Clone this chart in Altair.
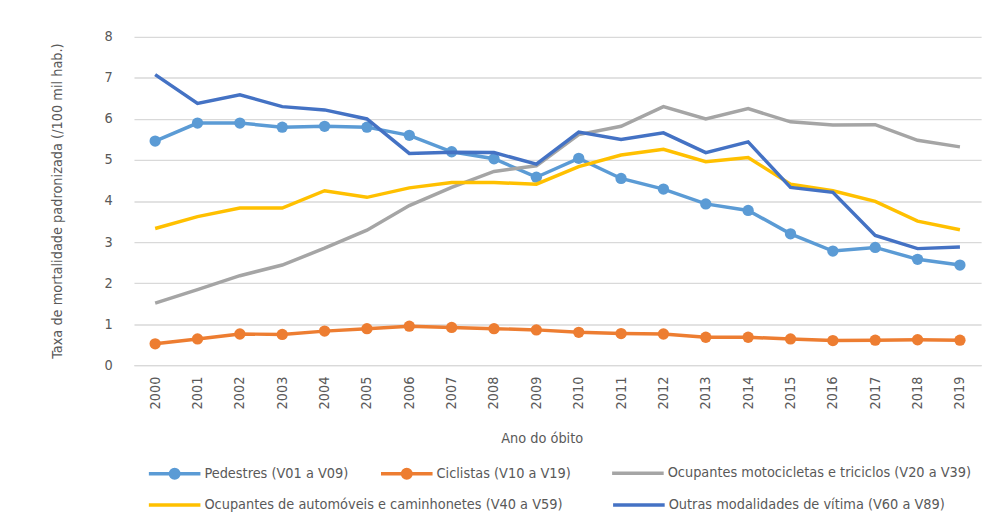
import altair as alt
import pandas as pd

years = [str(y) for y in range(2000, 2020)]

series_names = [
    "Pedestres (V01 a V09)",
    "Ciclistas (V10 a V19)",
    "Ocupantes motocicletas e triciclos (V20 a V39)",
    "Ocupantes de automóveis e caminhonetes (V40 a V59)",
    "Outras modalidades de vítima (V60 a V89)",
]
series_colors = ["#5B9BD5", "#ED7D31", "#A5A5A5", "#FFC000", "#4472C4"]

pedestres = [5.46, 5.90, 5.90, 5.80, 5.82, 5.80, 5.60, 5.20, 5.03, 4.58,
             5.04, 4.55, 4.29, 3.93, 3.77, 3.20, 2.78, 2.87, 2.58, 2.44]
ciclistas = [0.52, 0.64, 0.76, 0.75, 0.83, 0.89, 0.95, 0.92, 0.89, 0.86,
             0.80, 0.77, 0.76, 0.68, 0.68, 0.64, 0.60, 0.61, 0.62, 0.61]
motocicletas = [1.51, 1.84, 2.18, 2.44, 2.85, 3.29, 3.89, 4.33, 4.72, 4.86,
                5.62, 5.82, 6.30, 6.00, 6.25, 5.93, 5.85, 5.86, 5.48, 5.32]
automoveis = [3.33, 3.62, 3.83, 3.83, 4.25, 4.09, 4.32, 4.45, 4.45, 4.41,
              4.84, 5.12, 5.26, 4.96, 5.06, 4.41, 4.25, 3.99, 3.51, 3.30]
outras = [7.08, 6.38, 6.59, 6.30, 6.22, 6.00, 5.16, 5.19, 5.18, 4.90,
          5.68, 5.50, 5.66, 5.18, 5.44, 4.33, 4.21, 3.16, 2.84, 2.88]

all_values = [pedestres, ciclistas, motocicletas, automoveis, outras]
rows = []
for name, vals in zip(series_names, all_values):
    for yr, v in zip(years, vals):
        rows.append({"ano": yr, "serie": name, "taxa": v})
df = pd.DataFrame(rows)

FONT = "'DejaVu Sans Condensed', 'Liberation Sans Narrow', 'DejaVu Sans', sans-serif"
TXT = "#595959"
GRID = "#D9D9D9"
LW = 3.5
FS = 14.5

x_enc = alt.X("ano:O", scale=alt.Scale(type="point", padding=0.5),
              axis=alt.Axis(title="Ano do óbito", labelAngle=-90, labelPadding=11,
                            ticks=False, domainColor=GRID, domainWidth=1.3,
                            labelFont=FONT, labelFontSize=FS, labelColor=TXT,
                            titleFont=FONT, titleFontSize=FS, titleColor=TXT,
                            titleFontWeight="normal", titleX=411, titleY=74,
                            titleBaseline="middle", titleAlign="center"))
y_enc = alt.Y("taxa:Q", scale=alt.Scale(domain=[0, 8]),
              axis=alt.Axis(title="Taxa de mortalidade padronizada (/100 mil hab.)",
                            values=list(range(9)), ticks=False, domain=False,
                            labelPadding=22, gridColor=GRID, gridWidth=1.3,
                            labelFont=FONT, labelFontSize=FS, labelColor=TXT,
                            titleFont=FONT, titleFontSize=14.5, titleColor=TXT,
                            titleFontWeight="normal", titleX=-77, titleY=165,
                            titleAngle=270, titleBaseline="middle", titleAlign="center"))

CIRCLE_PATH = ("M-1,0H1"
               "M-0.165,0A0.165,0.165,0,1,0,0.165,0A0.165,0.165,0,1,0,-0.165,0"
               "M-0.058,0A0.058,0.058,0,1,0,0.058,0A0.058,0.058,0,1,0,-0.058,0")


def legend(x, y, stype, pad):
    return alt.Legend(title=None, orient="none", legendX=x, legendY=y,
                      direction="horizontal", symbolType=stype, symbolSize=2704,
                      symbolStrokeWidth=LW, labelFont=FONT, labelFontSize=FS,
                      labelColor=TXT, labelOffset=2, columnPadding=pad,
                      labelLimit=1000, padding=0)


def sub(idx):
    names = [series_names[i] for i in idx]
    return df[df["serie"].isin(names)], names, [series_colors[i] for i in idx]


dA, nA, cA = sub([0, 1])
dB, nB, cB = sub([2])
dC, nC, cC = sub([3, 4])

lineA = alt.Chart(dA).mark_line(strokeWidth=LW).encode(
    x=x_enc, y=y_enc,
    color=alt.Color("serie:N", scale=alt.Scale(domain=nA, range=cA),
                    legend=legend(13, 412, CIRCLE_PATH, 25)))
pointA = alt.Chart(dA).mark_circle(size=130, opacity=1).encode(
    x=x_enc, y=y_enc,
    color=alt.Color("serie:N", scale=alt.Scale(domain=nA, range=cA), legend=None))
layerA = alt.layer(lineA, pointA)

lineB = alt.Chart(dB).mark_line(strokeWidth=LW).encode(
    x=x_enc, y=y_enc,
    color=alt.Color("serie:N", scale=alt.Scale(domain=nB, range=cB),
                    legend=legend(480, 412, "stroke", 20)))

lineC = alt.Chart(dC).mark_line(strokeWidth=LW).encode(
    x=x_enc, y=y_enc,
    color=alt.Color("serie:N", scale=alt.Scale(domain=nC, range=cC),
                    legend=legend(13, 444, "stroke", 43)))

chart = alt.layer(layerA, lineB, lineC).resolve_scale(color="independent").properties(
    width=854, height=331,
    autosize=alt.AutoSizeParams(type="none"),
    padding={"left": 127, "top": 27, "right": 14, "bottom": 156},
    background="white",
).configure_view(stroke=None)

chart.save("out.html", embed_options={"renderer": "svg", "actions": False})
